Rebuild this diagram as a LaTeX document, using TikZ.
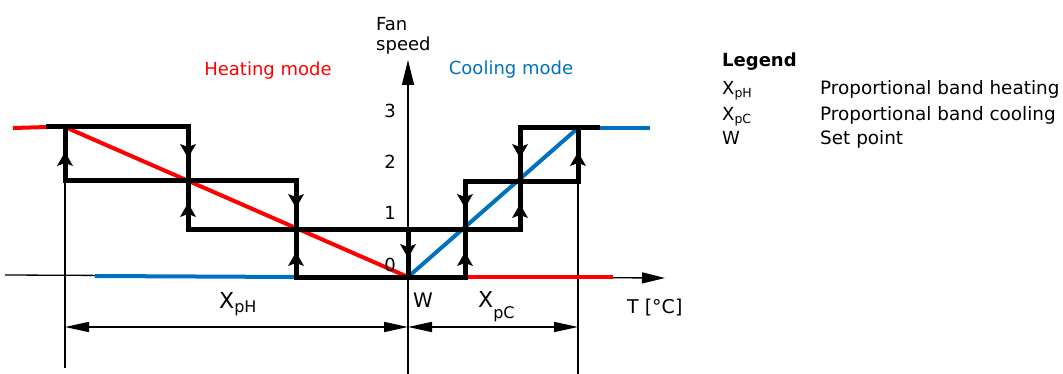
\documentclass[tikz,border=0pt]{standalone}
\usepackage{fontspec}
\setmainfont{DejaVu Sans}
\usetikzlibrary{arrows.meta}
\definecolor{hred}{RGB}{255,0,0}
\definecolor{cblue}{RGB}{0,112,192}
\newcommand{\fsz}[1]{\fontsize{#1}{#1}\selectfont}
\newcommand{\uph}[2]{\fill[black] (#1,#2) -- ++(-8,14) -- ++(8,-3) -- ++(8,3) -- cycle;}
\newcommand{\dnh}[2]{\fill[black] (#1,#2) -- ++(-8,-14) -- ++(8,3) -- ++(8,-3) -- cycle;}
\begin{document}
\begin{tikzpicture}[x=1pt,y=-1pt,
  thick line/.style={line width=5pt,black,line cap=rect},
  heat line/.style={line width=4pt,hred},
  cool line/.style={line width=4pt,cblue},
  axis line/.style={line width=1.3pt,black},
  dim line/.style={line width=1.5pt,black},
  lbl/.style={inner sep=0pt,font=\fsz{18}},
]
\useasboundingbox (0,0) rectangle (1063,374);

% key points
\coordinate (rs) at (13,128);
\coordinate (hA) at (48,127);
\coordinate (h3) at (65,127);
\coordinate (h2) at (65,181);
\coordinate (h3b) at (188,127);
\coordinate (h2b) at (188,181);
\coordinate (h1b) at (188,230);
\coordinate (h2c) at (296,181);
\coordinate (h1c) at (296,230);
\coordinate (h0c) at (296,277);
\coordinate (w1) at (408,230);
\coordinate (w0) at (408,277);
\coordinate (c0a) at (465,277);
\coordinate (c1a) at (465,230);
\coordinate (c2a) at (465,182);
\coordinate (c1b) at (520,230);
\coordinate (c2b) at (520,182);
\coordinate (c3b) at (520,128);
\coordinate (c2c) at (578,182);
\coordinate (c3c) at (578,128);
\coordinate (cE) at (597,128);
\coordinate (bE) at (650,128);
\coordinate (rE) at (613,277);
\coordinate (bS) at (95,276);

% axes
\coordinate (xs) at (5,275);
\coordinate (xe) at (665,278);
\coordinate (ys) at (408,374);
\coordinate (ye) at (408,60);
\draw[axis line,-{Triangle[length=23pt,width=11pt]}] (xs) -- (xe);
\draw[axis line,-{Triangle[length=25pt,width=12pt]}] (ys) -- (ye);

% thin verticals
\coordinate (v1b) at (65,368);
\coordinate (v2b) at (578,374);
\draw[axis line] (h2) -- (v1b);
\draw[axis line] (c3c) -- (v2b);

% dimension arrows
\coordinate (d1) at (65,327);
\coordinate (d2) at (408,327);
\coordinate (d3) at (578,327);
\draw[dim line,{Triangle[length=24pt,width=10pt]}-{Triangle[length=24pt,width=10pt]}] (d1) -- (d2);
\draw[dim line,{Triangle[length=24pt,width=10pt]}-{Triangle[length=24pt,width=10pt]}] (d2) -- (d3);

% coloured characteristics
\draw[heat line] (rs) -- (hA);
\draw[heat line] (h3) -- (w0);
\draw[heat line] (c0a) -- (rE);
\draw[cool line] (bS) -- (h0c);
\draw[cool line] (w0) -- (c3c);
\draw[cool line] (cE) -- (bE);

% black staircase (horizontals)
\draw[thick line] (hA) -- (h3b);
\draw[thick line] (h2) -- (h2c);
\draw[thick line] (h1b) -- (c1b);
\draw[thick line] (h0c) -- (c0a);
\draw[thick line] (c2a) -- (c2c);
\draw[thick line] (c3b) -- (cE);

% black staircase (verticals)
\draw[thick line] (h2) -- (h3);
\draw[thick line] (h3b) -- (h1b);
\draw[thick line] (h2c) -- (h0c);
\draw[thick line] (w1) -- (w0);
\draw[thick line] (c0a) -- (c2a);
\draw[thick line] (c1b) -- (c3b);
\draw[thick line] (c2c) -- (c3c);

% direction arrowheads
\uph{65}{152}
\dnh{188}{158}
\uph{188}{203}
\dnh{296}{208}
\uph{296}{252}
\dnh{408}{258}
\uph{465}{252}
\dnh{465}{208}
\uph{520}{204}
\dnh{520}{158}
\uph{578}{152}

% labels
\node[lbl,anchor=base,text=hred] (heat) at (268,76) {Heating mode};
\node[lbl,anchor=base,text=cblue] (cool) at (511,75) {Cooling mode};
\node[lbl,anchor=base west] (fan) at (376,31) {Fan};
\node[lbl,anchor=base west] (speed) at (376,51) {speed};
\node[lbl,anchor=base] (n3) at (390,118) {3};
\node[lbl,anchor=base] (n2) at (390,169) {2};
\node[lbl,anchor=base] (n1) at (390,220) {1};
\node[lbl,anchor=base] (n0) at (390,272) {0};
\node[inner sep=0pt,anchor=base west] (xph) at (219,308) {\fsz{22}X\raisebox{-4pt}{\fsz{16}pH}};
\node[inner sep=0pt,anchor=base west] (wl) at (413,307) {\fsz{20}W};
\node[inner sep=0pt,anchor=base west] (xpc) at (478,307) {\fsz{22}X\raisebox{-11pt}{\fsz{16}pC}};
\node[inner sep=0pt,anchor=base west] (tl) at (627,313) {\fsz{19}T [°C]};

% legend
\node[lbl,anchor=base west,font=\fsz{18}\bfseries] (leg) at (722,67) {Legend};
\node[inner sep=0pt,anchor=base west] (l1a) at (722,95) {\fsz{18}X\raisebox{-3pt}{\fsz{12.5}pH}};
\node[inner sep=0pt,anchor=base west] (l2a) at (722,121) {\fsz{18}X\raisebox{-3pt}{\fsz{12.5}pC}};
\node[inner sep=0pt,anchor=base west] (l3a) at (722,145) {\fsz{18}W};
\node[inner sep=0pt,anchor=base west] (l1b) at (820,95) {\fsz{18.4}Proportional band heating};
\node[inner sep=0pt,anchor=base west] (l2b) at (820,121) {\fsz{18.4}Proportional band cooling};
\node[inner sep=0pt,anchor=base west] (l3b) at (820,145) {\fsz{18.4}Set point};
\end{tikzpicture}
\end{document}
